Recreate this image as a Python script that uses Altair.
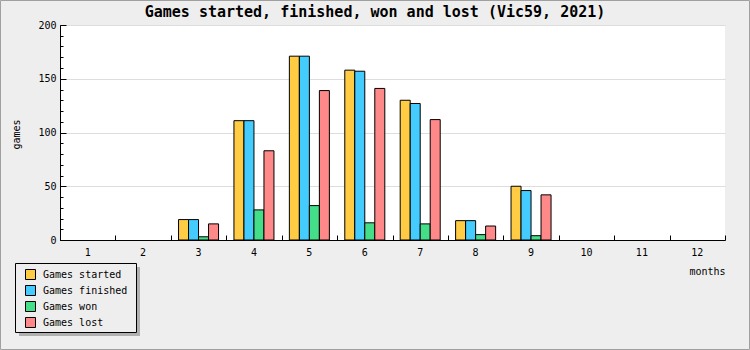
import altair as alt
import pandas as pd

months = [1, 2, 3, 4, 5, 6, 7, 8, 9, 10, 11, 12]
started = [0, 0, 19, 111, 171, 158, 130, 18, 50, 0, 0, 0]
finished = [0, 0, 19, 111, 171, 157, 127, 18, 46, 0, 0, 0]
won = [0, 0, 3, 28, 32, 16, 15, 5, 4, 0, 0, 0]
lost = [0, 0, 15, 83, 139, 141, 112, 13, 42, 0, 0, 0]
series = ["Games started", "Games finished", "Games won", "Games lost"]
colors = ["#ffcc44", "#44ccff", "#44dd88", "#ff8888"]
y_major = [0, 50, 100, 150, 200]
y_minor = [0, 10, 20, 30, 40, 50, 60, 70, 80, 90, 100, 110, 120, 130, 140, 150,
           160, 170, 180, 190, 200]

rows = []
for name, vals in zip(series, [started, finished, won, lost]):
    for m, v in zip(months, vals):
        rows.append({"month": m, "series": name, "value": v})
df = pd.DataFrame(rows)

FONT = "DejaVu Sans Mono"
W, H = 665, 215

xscale = alt.Scale(domain=months, paddingInner=0, paddingOuter=0)
yscale = alt.Scale(domain=[0, 200], nice=False, zero=True)

base = alt.Chart(df)

bars = base.transform_filter("datum.value > 0").mark_bar(
    stroke="black", strokeWidth=1, opacity=1
).encode(
    x=alt.X("month:O", scale=xscale, axis=alt.Axis(
        orient="bottom", title="months", labelAngle=0, ticks=False, tickSize=0,
        domainColor="black", domainWidth=1, labelFont=FONT, labelFontSize=10,
        labelColor="black", labelPadding=7, titleFont=FONT, titleFontSize=10,
        titleFontWeight="normal", titleColor="black", titleAnchor="end",
        titleAlign="right", titleX=W, titleY=31, titleBaseline="middle", grid=False)),
    xOffset=alt.XOffset("series:N", sort=series,
                        scale=alt.Scale(domain=series, paddingInner=0, paddingOuter=0.77)),
    y=alt.Y("value:Q", scale=yscale, axis=alt.Axis(
        orient="left", values=y_major, title="games", grid=True, gridColor="#dddddd",
        gridWidth=1, ticks=False, tickSize=0, domainColor="black", domainWidth=1,
        labelFont=FONT, labelFontSize=10, labelColor="black", labelPadding=4,
        titleFont=FONT, titleFontSize=10, titleFontWeight="normal", titleColor="black",
        titleX=-44, titleY=109, titleAngle=270, titleBaseline="middle",
        titleAlign="center")),
    color=alt.Color("series:N", sort=series,
                    scale=alt.Scale(domain=series, range=colors),
                    legend=alt.Legend(
                        title=None, orient="none", legendX=-35, legendY=244,
                        direction="vertical", symbolType="square", symbolSize=100,
                        symbolStrokeColor="black", symbolStrokeWidth=1,
                        symbolOpacity=1, labelFont=FONT, labelFontSize=10,
                        labelColor="black", labelOffset=7, rowPadding=1, padding=0)),
)

ticks_major = base.mark_point(opacity=0).encode(
    x=alt.X("month:O", scale=xscale, axis=alt.Axis(
        orient="bottom", labels=False, domain=False, ticks=True, tickSize=5,
        tickBand="extent", offset=-5, tickColor="black", title=None, grid=False)),
    y=alt.Y("value:Q", scale=yscale, axis=alt.Axis(
        orient="left", values=y_major, labels=False, domain=False, ticks=True,
        tickSize=6, offset=-6, tickColor="black", title=None, grid=False)),
)

ticks_minor = base.mark_point(opacity=0).encode(
    y=alt.Y("value:Q", scale=yscale, axis=alt.Axis(
        orient="left", values=y_minor, labels=False, domain=False, ticks=True,
        tickSize=3, offset=-3, tickColor="black", title=None, grid=False)),
)

one = alt.Data(values=[{"k": 1}])
frame = alt.Chart(one).mark_rect(fill="transparent", stroke="#a0a0a0", strokeWidth=1).encode(
    x=alt.value(-59.5), x2=alt.value(689.5), y=alt.value(-24.5), y2=alt.value(324.5))
shadow = alt.Chart(one).mark_rect(fill="#b0b0b0").encode(
    x=alt.value(-41), x2=alt.value(80), y=alt.value(242), y2=alt.value(311))
box = alt.Chart(one).mark_rect(fill="#eeeeee", stroke="black", strokeWidth=1).encode(
    x=alt.value(-44.5), x2=alt.value(76.5), y=alt.value(238.5), y2=alt.value(307.5))

chart = alt.layer(frame, shadow, box, bars, ticks_major, ticks_minor).resolve_scale(
    x="independent", y="independent"
).resolve_axis(
    x="independent", y="independent"
).properties(
    width=W, height=H,
    autosize=alt.AutoSizeParams(type="none"),
    padding={"left": 60, "top": 25, "right": 25, "bottom": 110},
    background="#eeeeee",
    title=alt.TitleParams(
        text="Games started, finished, won and lost (Vic59, 2021)",
        font=FONT, fontSize=15, fontWeight="bold", color="black",
        anchor="middle", frame="group", dx=-17.5, dy=24),
).configure_view(fill="white", strokeWidth=0)

chart.save("out.html", embed_options={"renderer": "svg", "actions": False})
